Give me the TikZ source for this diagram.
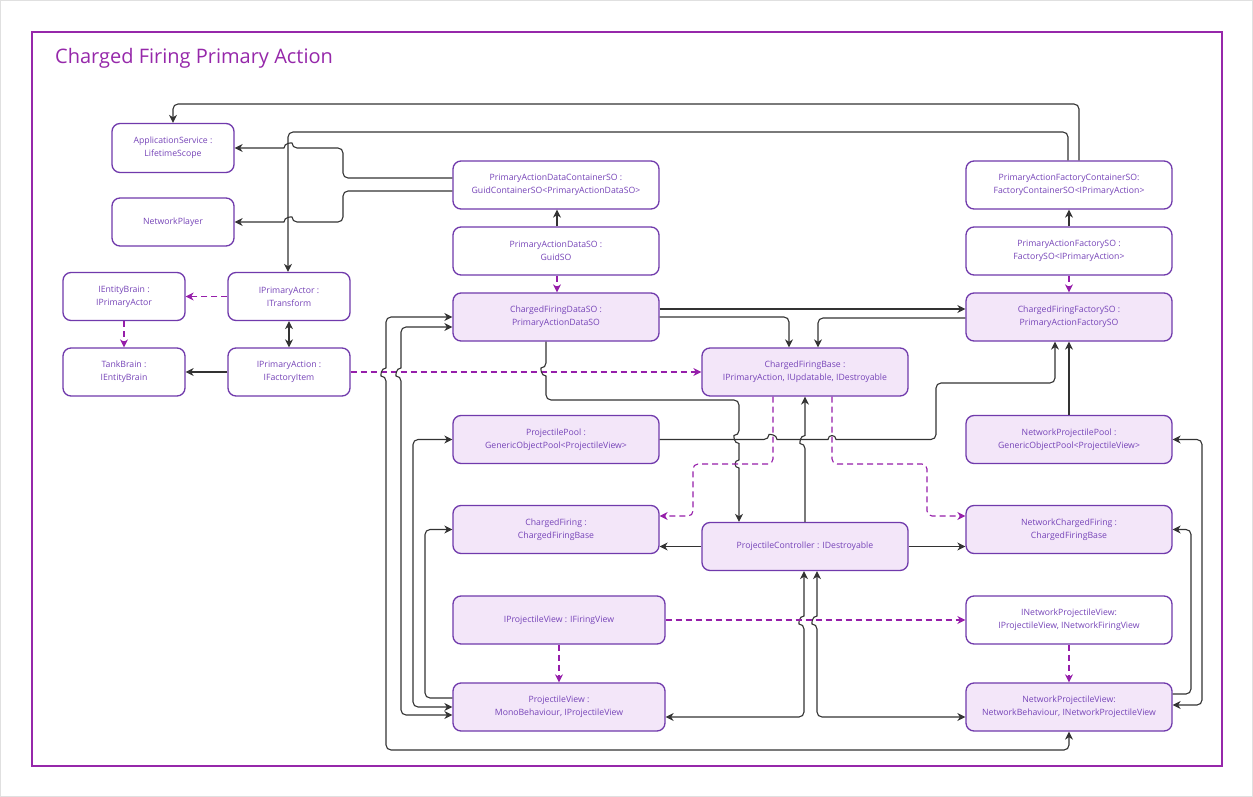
\documentclass[tikz,border=0pt]{standalone}
\usepackage{fontspec}
\setmainfont{Open Sans}
\usetikzlibrary{arrows.meta}
\definecolor{boxborder}{RGB}{112,58,172}
\definecolor{boxfill}{RGB}{243,230,249}
\definecolor{boxtext}{RGB}{118,68,184}
\definecolor{framecol}{RGB}{150,40,170}
\definecolor{dashcol}{RGB}{150,30,170}
\definecolor{linecol}{RGB}{51,51,51}
\begin{document}
\begin{tikzpicture}[x=1pt,y=-1pt,
  >={Stealth[length=8pt,width=8pt,inset=2.5pt]},
  box/.style={draw=boxborder, line width=1.3pt, rounded corners=8pt, minimum width=206pt, minimum height=48pt, inner sep=0pt, align=center, text=boxtext, font=\fontsize{8.7}{12.8}\selectfont},
  fbox/.style={box, fill=boxfill},
  wbox/.style={box, fill=white},
  small/.style={minimum width=122pt},
  wide/.style={minimum width=212pt},
  conn/.style={draw=linecol, line width=1.1pt, rounded corners=5pt, ->},
  dconn/.style={draw=dashcol, line width=1.1pt, dash pattern=on 6pt off 4pt, rounded corners=5pt, ->}
]
\useasboundingbox (0,0) rectangle (1253,797);
\fill[white] (0,0) rectangle (1253,797);
\draw[black!12, line width=1pt] (0.5,0.5) rectangle (1252.5,796.5);
\draw[framecol, line width=1.3pt] (32,32) rectangle (1222,766);
\node[anchor=west, inner sep=0pt, text=framecol, font=\fontsize{20}{22}\selectfont] (title) at (55,58) {Charged Firing Primary Action};

% nodes
\node[wbox, small, minimum height=49pt] (appsvc) at (173,148) {ApplicationService :\\LifetimeScope};
\node[wbox, small] (netplayer) at (173,222) {NetworkPlayer};
\node[wbox, small] (entbrain) at (124,296.5) {IEntityBrain :\\IPrimaryActor};
\node[wbox, small] (pactor) at (289,296.5) {IPrimaryActor :\\ITransform};
\node[wbox, small] (tank) at (124,372) {TankBrain :\\IEntityBrain};
\node[wbox, small] (paction) at (289,372) {IPrimaryAction :\\IFactoryItem};

\node[wbox] (pdcont) at (556,185) {PrimaryActionDataContainerSO :\\GuidContainerSO<PrimaryActionDataSO>};
\node[wbox] (pdso) at (556,251) {PrimaryActionDataSO :\\GuidSO};
\node[fbox] (cfdso) at (556,317) {ChargedFiringDataSO :\\PrimaryActionDataSO};
\node[fbox] (cfbase) at (805,372) {ChargedFiringBase :\\IPrimaryAction, IUpdatable, IDestroyable};

\node[wbox] (pfcont) at (1069,185) {PrimaryActionFactoryContainerSO:\\FactoryContainerSO<IPrimaryAction>};
\node[wbox] (pfso) at (1069,251) {PrimaryActionFactorySO :\\FactorySO<IPrimaryAction>};
\node[fbox] (cffso) at (1069,317) {ChargedFiringFactorySO :\\PrimaryActionFactorySO};

\node[fbox] (ppool) at (556,439.5) {ProjectilePool :\\GenericObjectPool<ProjectileView>};
\node[fbox] (cfiring) at (556,529.5) {ChargedFiring :\\ChargedFiringBase};
\node[fbox, wide] (ipview) at (559,620) {IProjectileView : IFiringView};
\node[fbox, wide] (pview) at (559,707) {ProjectileView :\\MonoBehaviour, IProjectileView};
\node[fbox] (pcon) at (805,546.5) {ProjectileController : IDestroyable};

\node[fbox] (nppool) at (1069,439.5) {NetworkProjectilePool :\\GenericObjectPool<ProjectileView>};
\node[fbox] (ncfiring) at (1069,529.5) {NetworkChargedFiring :\\ChargedFiringBase};
\node[wbox] (inpview) at (1069,620) {INetworkProjectileView:\\IProjectileView, INetworkFiringView};
\node[fbox] (npview) at (1069,707) {NetworkProjectileView:\\NetworkBehaviour, INetworkProjectileView};

% connectors
\draw[conn] ([xshift=10pt]pfcont.north) -- (1079,104) -- (173,104) -- (appsvc.north);
\draw[conn] ([xshift=-1pt]pfcont.north) -- (1068,132) -- (288,132) -- ([xshift=-1pt]pactor.north);
\draw[conn] ([yshift=7pt]pdcont.west) -- (343,178) -- (343,148) -- (292,148) [sharp corners] .. controls (292,142.7) and (284,142.7) .. (284,148) [rounded corners=5pt] -- (appsvc.east);
\draw[conn] ([yshift=-6pt]pdcont.west) -- (343,191) -- (343,222) -- (292,222) [sharp corners] .. controls (292,216.7) and (284,216.7) .. (284,222) [rounded corners=5pt] -- (netplayer.east);
\draw[conn] ([xshift=1pt]pdso.north) -- ([xshift=1pt]pdcont.south);
\draw[dconn] ([xshift=1pt]pdso.south) -- ([xshift=1pt]cfdso.north);
\draw[conn] (pfso.north) -- (pfcont.south);
\draw[dconn] (pfso.south) -- (cffso.north);
\draw[dconn] (pactor.west) -- (entbrain.east);
\draw[dconn] (entbrain.south) -- (tank.north);
\draw[conn,<->] (pactor.south) -- (paction.north);
\draw[conn] (paction.west) -- (tank.east);
\draw[dconn] (paction.east) -- (paction.east -| cfbase.west);

\draw[conn,<->] (npview.south) -- (1069,750) -- (386,750) -- (386,376) [sharp corners] .. controls (380.7,376) and (380.7,368) .. (386,368) [rounded corners=5pt] -- (386,317) -- (cfdso.west);
\draw[conn,<->] ([yshift=-8pt]pview.west) -- (401,715) -- (401,376) [sharp corners] .. controls (395.7,376) and (395.7,368) .. (401,368) [rounded corners=5pt] -- (401,327) -- ([yshift=-10pt]cfdso.west);
\draw[conn,<->] (ppool.west) -- (413,439.5) -- (413,707) -- (pview.west);
\draw[conn] ([yshift=9pt]pview.west) -- (425,698) -- (425,529.5) -- (cfiring.west);

\draw[conn] ([yshift=8pt]cfdso.east) -- ([yshift=8pt]cffso.west);
\draw[conn] (cfdso.east) -| ([xshift=-16pt]cfbase.north);
\draw[conn] ([yshift=-1pt]cffso.west) -| ([xshift=13pt]cfbase.north);

\draw[conn] ([xshift=-10pt]cfdso.south) -- (546,368) [sharp corners] .. controls (540.7,368) and (540.7,376) .. (546,376) [rounded corners=5pt] -- (546,400) -- (739,400) -- (739,435.5) [sharp corners] .. controls (733.7,435.5) and (733.7,443.5) .. (739,443.5) -- (739,460) .. controls (733.7,460) and (733.7,468) .. (739,468) [rounded corners=5pt] -- ([xshift=-66pt]pcon.north);

\draw[conn] (ppool.east) -- (769,439.5) [sharp corners] .. controls (769,434.2) and (777,434.2) .. (777,439.5) -- (828,439.5) .. controls (828,434.2) and (836,434.2) .. (836,439.5) [rounded corners=5pt] -- (936,439.5) -- (936,383) -- (1055,383) -- ([xshift=-14pt]cffso.south);
\draw[conn] (nppool.north) -- (cffso.south);

\draw[dconn] ([xshift=-32pt]cfbase.south) -- (773,464) -- (693,464) -- (693,516) -- ([yshift=13.5pt]cfiring.east);
\draw[dconn] ([xshift=27pt]cfbase.south) -- (832,464) -- (927,464) -- (927,516) -- ([yshift=13.5pt]ncfiring.west);

\draw[conn] (pcon.north) -- (805,443.5) [sharp corners] .. controls (799.7,443.5) and (799.7,435.5) .. (805,435.5) -- (cfbase.south);
\draw[conn] (pcon.west) -- (pcon.west -| cfiring.east);
\draw[conn] (pcon.east) -- (pcon.east -| ncfiring.west);

\draw[conn,<->] ([yshift=-10pt]pview.east) -- (804,717) -- (804,624) [sharp corners] .. controls (798.7,624) and (798.7,616) .. (804,616) -- ([xshift=-1pt]pcon.south);
\draw[conn,<->] ([yshift=-10pt]npview.west) -- (817,717) -- (817,624) [sharp corners] .. controls (811.7,624) and (811.7,616) .. (817,616) -- ([xshift=12pt]pcon.south);

\draw[dconn] (ipview.east) -- (ipview.east -| inpview.west);
\draw[dconn] (ipview.south) -- (pview.north);
\draw[dconn] (inpview.south) -- (npview.north);

\draw[conn,<->] ([yshift=2pt]npview.east) -- (1202,705) -- (1202,439.5) -- (nppool.east);
\draw[conn] ([yshift=13pt]npview.east) -- (1191,694) -- (1191,529.5) -- (ncfiring.east);
\end{tikzpicture}
\end{document}
